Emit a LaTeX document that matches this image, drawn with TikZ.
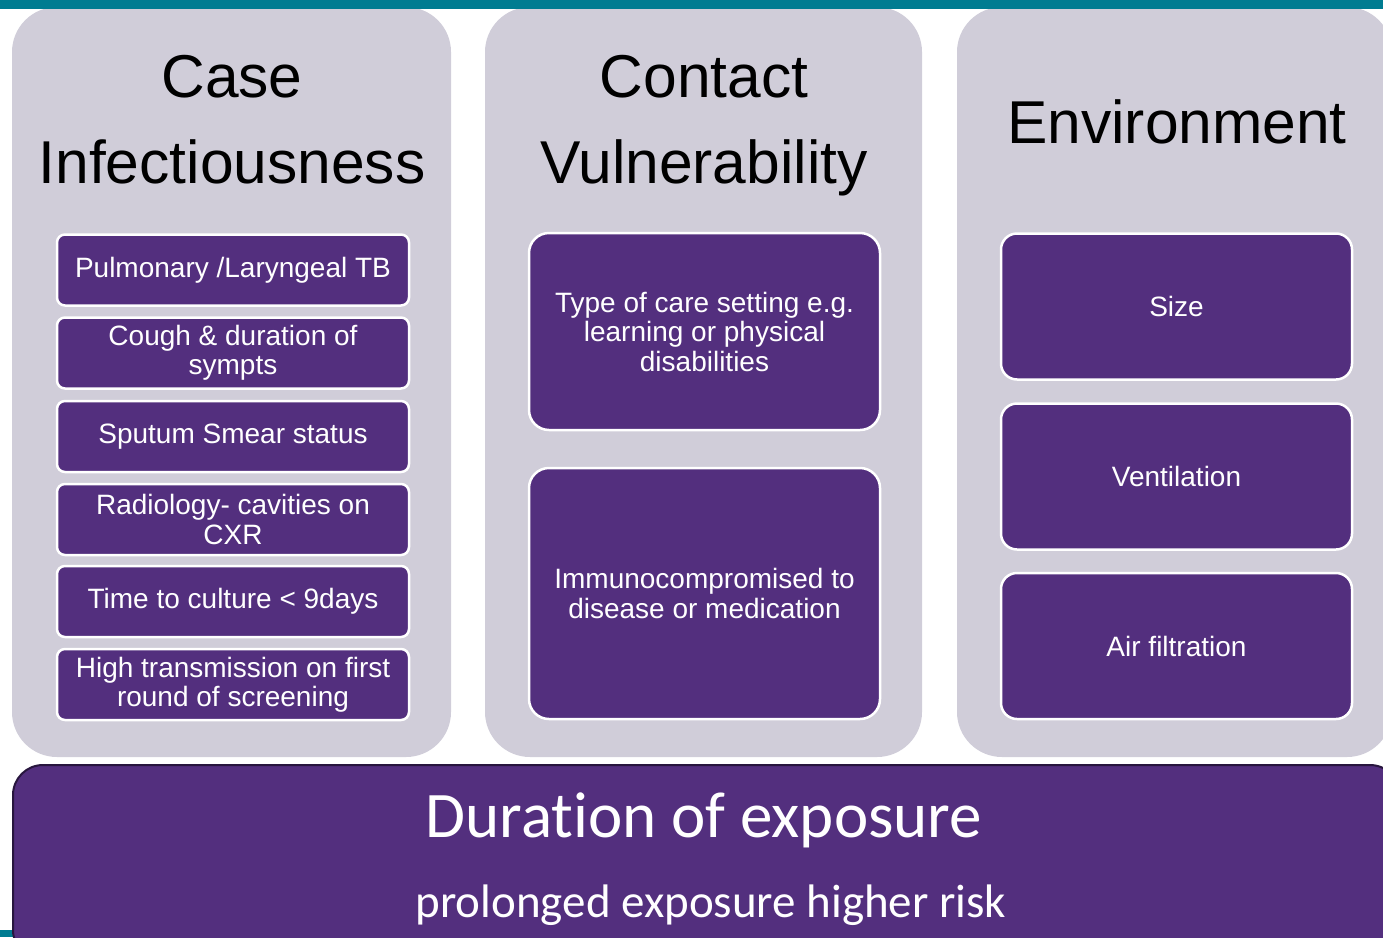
\documentclass[tikz,border=0pt]{standalone}
\usepackage{fontspec}
\setmainfont{Liberation Sans}
\newfontfamily\calibri[Ligatures=NoCommon]{Carlito}
\usetikzlibrary{positioning}

\definecolor{tbpurple}{RGB}{83,47,126}
\definecolor{tbgrey}{RGB}{208,205,217}
\definecolor{tbteal}{RGB}{0,124,145}
\definecolor{tbedge}{RGB}{40,22,62}

\tikzset{
  panel/.style={fill=tbgrey, rounded corners=45pt},
  heading/.style={align=center, inner sep=0pt, font=\fontsize{60.5}{86}\selectfont},
  factor/.style={draw=white, line width=2.5pt, fill=tbpurple, text=white, align=center,
    inner sep=0pt, rounded corners=8pt, font=\fontsize{28}{29.5}\selectfont}
}

\begin{document}
\begin{tikzpicture}[x=1pt,y=-1pt]
\useasboundingbox (0,0) rectangle (1383,937);

% Teal strips top and bottom
\fill[tbteal] (0,930) rectangle (1383,937);

% Grey panels
\fill[panel] (12,7) rectangle (451,757);
\fill[panel] (485,7) rectangle (922,757);
\fill[panel] (957,7) rectangle (1392,757);
\fill[tbteal] (0,0) rectangle (1383,9);

% Headings (base = last line)
\node[heading, anchor=base] (case) at (232,183) {Case\\Infectiousness};
\node[heading, anchor=base] (contact) at (704,183) {Contact\\Vulnerability};
\node[heading, anchor=base] (environment) at (1177,143) {Environment};

% Case infectiousness factors
\foreach \y/\txt [count=\i] in {270/{Pulmonary /Laryngeal TB}, 353/{Cough \& duration of\\sympts},
    436.5/{Sputum Smear status}, 519.5/{Radiology- cavities on\\CXR},
    601.5/{Time to culture < 9days}, 684.5/{High transmission on first\\round of screening}} {
  \node[factor, minimum width=352pt, minimum height=71pt] (c\i) at (233,\y) {\txt};
}

% Contact vulnerability factors
\node[factor, rounded corners=20pt, minimum width=351pt, minimum height=197pt] (v1) at (704.5,331.5)
  {Type of care setting e.g.\\learning or physical\\disabilities};
\node[factor, rounded corners=20pt, minimum width=351pt, minimum height=251pt] (v2) at (704.5,593.5)
  {Immunocompromised to\\disease or medication};

% Environment factors
\foreach \y/\txt [count=\i] in {306.5/Size, 476.5/Ventilation, 646/Air filtration} {
  \node[factor, rounded corners=16pt, minimum width=351pt, minimum height=146pt] (e\i) at (1176.5,\y) {\txt};
}

% Duration bar
\draw[fill=tbpurple, draw=tbedge, line width=2pt, rounded corners=30pt] (13,765) rectangle (1400,960);
\node[font=\calibri\fontsize{65}{70}\selectfont, text=white, anchor=base] (duration) at (704,837) {Duration of exposure};
\node[font=\calibri\fontsize{47}{50}\selectfont, text=white, anchor=base] (risk) at (711,917) {prolonged exposure higher risk};

\end{tikzpicture}
\end{document}
